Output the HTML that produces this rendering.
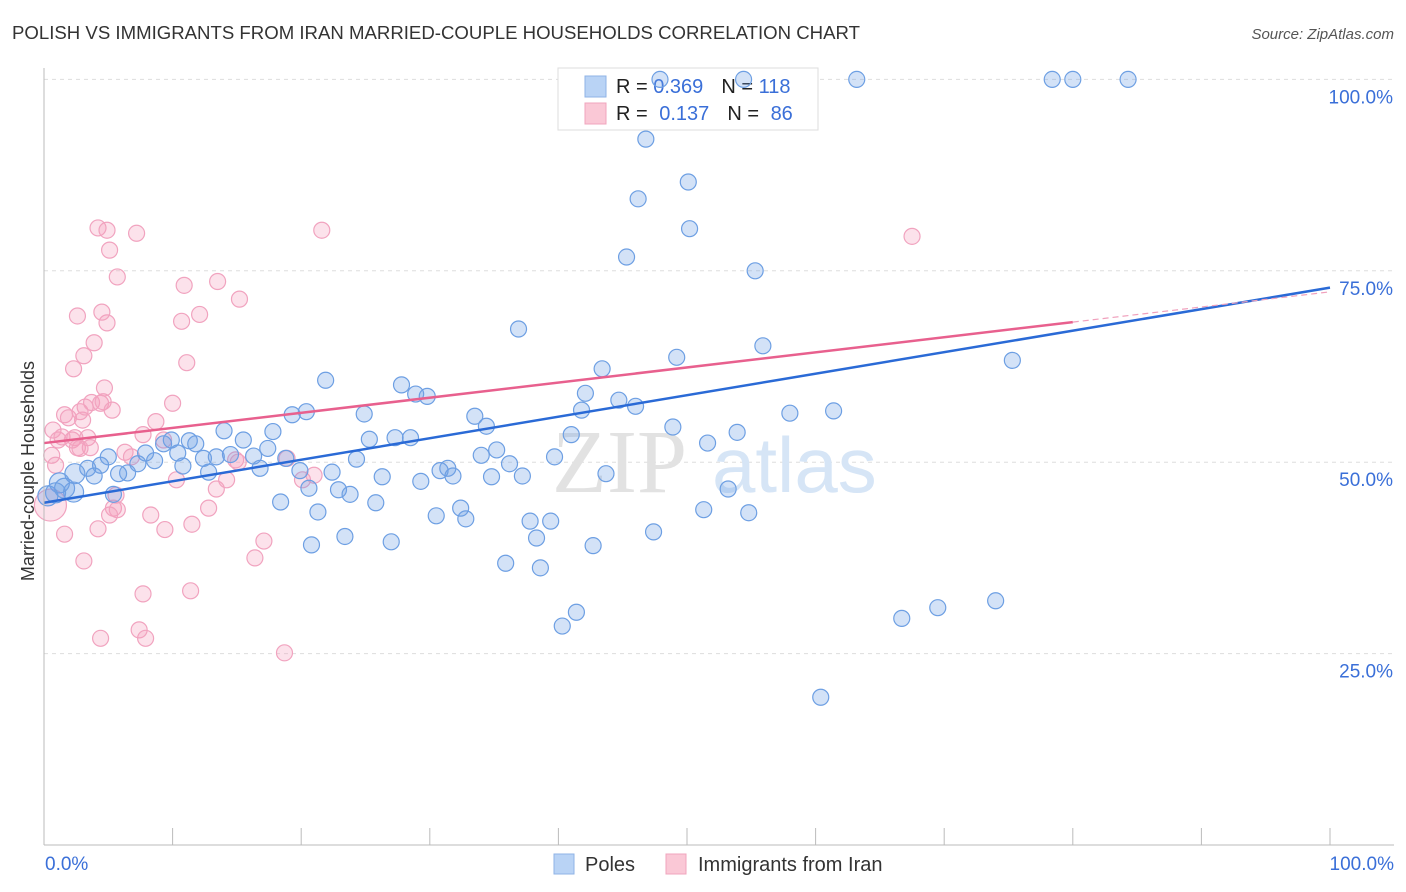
<!DOCTYPE html>
<html><head><meta charset="utf-8"><style>
body{margin:0;background:#fff;font-family:"Liberation Sans",sans-serif}
svg{display:block}
</style></head><body>
<svg id="chart" width="1406" height="892">
<text x="12" y="39" font-size="18" fill="#333" textLength="848" lengthAdjust="spacingAndGlyphs">POLISH VS IMMIGRANTS FROM IRAN MARRIED-COUPLE HOUSEHOLDS CORRELATION CHART</text>
<text x="1394" y="39" font-size="15" fill="#555" font-style="italic" text-anchor="end">Source: ZipAtlas.com</text>
<g id="grid"></g>
<g><text x="552" y="492" font-size="90" font-family="Liberation Serif,serif" fill="#e2e2e2">ZIP</text><text x="712" y="492" font-size="78" fill="#d6e5f6">atlas</text></g>
<g>
<rect x="558" y="68" width="260" height="62" fill="#fff" stroke="#ddd"/>
<rect x="585" y="76" width="21" height="21" fill="#b9d3f5" stroke="#8fb3e6"/>
<rect x="585" y="103" width="21" height="21" fill="#fac8d6" stroke="#f0a5bd"/>
<text x="616" y="93" font-size="20" fill="#222">R = <tspan fill="#3a6fd8">0.369</tspan><tspan dx="18">N = </tspan><tspan fill="#3a6fd8">118</tspan></text>
<text x="616" y="120" font-size="20" fill="#222">R = <tspan fill="#3a6fd8" dx="6">0.137</tspan><tspan dx="18">N = </tspan><tspan fill="#3a6fd8" dx="6">86</tspan></text>
</g>
<g id="pts"></g>
<g id="lines"></g>
<line x1="44" y1="68" x2="44" y2="845" stroke="#bbb"/>
<line x1="44" y1="845" x2="1394" y2="845" stroke="#bbb"/>
<g id="ticks"></g>
<text x="20" y="457" font-size="18" fill="#333" transform="rotate(-90 34 457)" text-anchor="middle">Married-couple Households</text>
<text x="45" y="870" font-size="19" fill="#3a6fd8">0.0%</text>
<text x="1394" y="870" font-size="19" fill="#3a6fd8" text-anchor="end">100.0%</text>
<g><rect x="554" y="854" width="20" height="20" fill="#b9d3f5" stroke="#8fb3e6"/><text x="585" y="871" font-size="20" fill="#333">Poles</text></g>
<g><rect x="666" y="854" width="20" height="20" fill="#fac8d6" stroke="#f0a5bd"/><text x="698" y="871" font-size="20" fill="#333">Immigrants from Iran</text></g>
</svg>
<script>
const yTicks=[25,50,75,100];
const yTickLabels=["25.0%","50.0%","75.0%","100.0%"];
const xTicks=[0,10,20,30,40,50,60,70,80,90,100];
const polesX=[47.9,54.4,63.2,78.4,80.0,84.3,46.8,50.1,46.2,50.2,45.3,55.3,36.9,55.9,49.2,75.3,43.4,21.9,27.8,28.9,29.8,42.1,44.7,46.0,41.8,61.4,58.0,20.4,19.3,24.9,33.5,34.4,48.9,14.0,17.8,53.9,41.0,27.3,28.5,25.3,9.9,11.3,9.3,15.5,11.8,51.6,17.4,7.9,10.4,14.5,5.0,35.2,34.0,39.7,16.3,12.4,13.4,18.8,24.3,8.6,7.3,4.4,10.8,36.2,16.8,3.4,31.4,12.8,30.8,19.9,22.4,6.5,2.4,3.9,5.8,43.7,26.3,31.8,34.8,37.2,29.3,1.2,1.6,53.2,20.6,22.9,23.8,2.3,0.9,5.4,0.3,18.4,25.8,32.4,21.3,51.3,54.8,30.5,32.8,37.8,39.4,47.4,23.4,38.3,20.8,27.0,42.7,35.9,38.6,74.0,69.5,41.4,66.7,40.3,60.4];
const polesY=[100,100,100,100,100,100,92.2,86.6,84.4,80.5,76.8,75.0,67.4,65.2,63.7,63.3,62.2,60.7,60.1,58.9,58.6,59.0,58.1,57.3,56.8,56.7,56.4,56.6,56.2,56.3,56.0,54.7,54.6,54.1,54.0,53.9,53.6,53.2,53.2,53.0,52.9,52.8,52.4,52.9,52.4,52.5,51.8,51.2,51.2,51.0,50.7,51.6,50.9,50.7,50.8,50.5,50.7,50.5,50.4,50.2,49.8,49.6,49.5,49.8,49.2,49.2,49.2,48.7,48.9,48.9,48.7,48.6,48.5,48.2,48.5,48.5,48.1,48.2,48.1,48.2,47.5,47.3,46.6,46.5,46.6,46.4,45.8,46.1,46.0,45.8,45.6,44.8,44.7,44.0,43.5,43.8,43.4,43.0,42.6,42.3,42.3,40.9,40.3,40.1,39.2,39.6,39.1,36.8,36.2,31.9,31.0,30.4,29.6,28.6,19.3];
const iranX=[0.5,0.6,0.7,0.9,1.1,1.4,1.6,1.9,2.2,2.4,2.6,2.8,3.0,3.2,3.4,3.6,3.7,4.4,4.6,5.3,2.3,3.1,3.9,4.7,4.9,4.5,2.6,5.7,5.1,4.2,4.9,7.2,10.9,13.5,12.1,10.7,15.2,21.6,67.5,11.1,10.0,8.7,7.7,2.8,6.3,6.8,9.3,14.9,18.9,20.1,21.0,10.3,13.4,14.2,5.6,5.4,5.7,5.1,8.3,12.8,4.2,1.6,9.4,11.5,17.1,16.4,3.1,11.4,7.7,7.4,7.9,4.4,18.7,15.1];
const iranY=[44.4,50.9,54.2,49.6,52.9,53.3,56.2,55.8,52.9,53.2,51.9,56.6,55.5,57.2,53.2,51.9,57.8,57.7,57.9,56.8,62.2,63.9,65.6,59.7,68.2,69.6,69.1,74.2,77.7,80.6,80.3,79.9,73.1,73.6,69.3,68.4,71.3,80.3,79.5,63.0,57.7,55.3,53.6,51.8,51.3,50.7,52.9,50.3,50.5,47.7,48.3,47.7,46.5,47.7,45.7,44.0,43.8,43.1,43.1,44.0,41.3,40.6,41.2,41.9,39.7,37.5,37.1,33.2,32.8,28.1,27.0,27.0,25.1,50.0];
const polesTrend=[44.7,72.8];
const iranTrend=[52.5,68.3];
const iranTrendEnd=80;
const X=v=>44+v*12.86, Y=v=>845-v*7.656;
const NS="http://www.w3.org/2000/svg";
function mk(t,a,p){const e=document.createElementNS(NS,t);for(const k in a)e.setAttribute(k,a[k]);p.appendChild(e);return e;}
const grid=document.getElementById('grid'),ticks=document.getElementById('ticks');
yTicks.forEach((v,i)=>{
 const l=mk('line',{x1:44,x2:1394,y1:Y(v),y2:Y(v),stroke:'#ddd','stroke-dasharray':'4,4'},grid);
 
 
 const t=mk('text',{x:1393,y:Y(v)+24,'font-size':19,fill:'#3a6fd8','text-anchor':'end'},ticks);
 t.textContent=yTickLabels[i];
 
 
});
xTicks.forEach(v=>{
 const l=mk('line',{x1:X(v),x2:X(v),y1:828,y2:845,stroke:'#bbb'},ticks);
 
 
});
const pts=document.getElementById('pts');
iranX.forEach((x,i)=>{
 const c=mk('circle',{cx:X(x),cy:Y(iranY[i]),r:i==0?16:8,fill:'rgba(245,160,190,0.3)',stroke:'#f1a3bf','stroke-width':1.2},pts);
 
 
});
polesX.forEach((x,i)=>{
 const c=mk('circle',{cx:X(x),cy:Y(polesY[i]),r:(x<3?10:8),fill:'rgba(110,160,230,0.3)',stroke:'#6d9fe3','stroke-width':1.2},pts);
 
 
});
const lines=document.getElementById('lines');
const pl=mk('line',{x1:X(0),y1:Y(polesTrend[0]),x2:X(100),y2:Y(polesTrend[1]),stroke:'#2a6ad6','stroke-width':2.5},lines);


const slope=(iranTrend[1]-iranTrend[0])/iranTrendEnd;
const il=mk('line',{x1:X(0),y1:Y(iranTrend[0]),x2:X(iranTrendEnd),y2:Y(iranTrend[1]),stroke:'#e8608e','stroke-width':2.5},lines);


const id=mk('line',{x1:X(iranTrendEnd),y1:Y(iranTrend[1]),x2:X(100),y2:Y(iranTrend[0]+slope*100),stroke:'#f0a0bc','stroke-width':1.2,'stroke-dasharray':'6,4'},lines);


</script>
</body></html>
